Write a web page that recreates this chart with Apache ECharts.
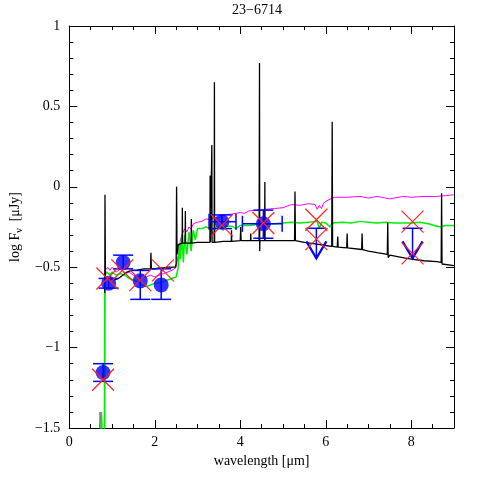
<!DOCTYPE html>
<html>
<head>
<meta charset="utf-8">
<script src="https://cdn.jsdelivr.net/npm/echarts@6.0.0/dist/echarts.min.js"></script>
<style>
  html, body { margin: 0; padding: 0; background: #fff; }
  #chart { width: 480px; height: 480px; }
</style>
</head>
<body>
<div id="chart"></div>
<script>
// model spectra : [wavelength (um), log F_nu]
var blackModel = [
  [0.83, -0.66], [0.835, -0.05], [0.845, -0.57], [0.95, -0.57], [1.05, -0.58], [1.15, -0.57],
  [1.25, -0.55], [1.35, -0.53], [1.45, -0.52], [1.55, -0.52], [1.65, -0.515], [1.75, -0.51],
  [1.9, -0.51], [1.91, -0.41], [1.92, -0.51], [2.0, -0.51], [2.1, -0.505], [2.2, -0.505],
  [2.3, -0.5], [2.48, -0.5], [2.5, -0.48], [2.51, 0.0], [2.52, -0.42], [2.55, -0.36],
  [2.64, -0.35], [2.645, -0.13], [2.65, -0.35], [2.71, -0.35], [2.715, -0.15], [2.72, -0.35],
  [2.85, -0.35], [2.855, -0.2], [2.86, -0.35], [3.0, -0.345], [3.2, -0.345], [3.29, -0.345],
  [3.295, 0.07], [3.3, -0.345], [3.33, -0.345], [3.335, 0.26], [3.34, -0.345], [3.39, -0.345],
  [3.395, 0.65], [3.4, -0.345], [3.6, -0.34], [3.79, -0.34], [3.795, -0.27], [3.8, -0.34],
  [4.0, -0.335], [4.01, -0.25], [4.02, -0.335], [4.24, -0.335], [4.245, -0.29], [4.25, -0.335],
  [4.44, -0.335], [4.45, 0.77], [4.455, -0.4], [4.46, -0.335], [4.57, -0.335], [4.575, 0.03],
  [4.58, -0.335], [5.0, -0.335], [5.27, -0.335], [5.28, -0.03], [5.29, -0.335], [5.5, -0.345],
  [5.75, -0.355], [6.0, -0.365], [6.14, -0.37], [6.15, 0.405], [6.16, -0.37], [6.27, -0.375],
  [6.28, -0.31], [6.29, -0.375], [6.49, -0.38], [6.5, -0.29], [6.51, -0.38], [6.84, -0.39],
  [6.85, -0.29], [6.86, -0.39], [7.0, -0.4], [7.2, -0.41], [7.44, -0.42], [7.45, -0.22],
  [7.46, -0.44], [7.5, -0.425], [7.8, -0.44], [8.0, -0.45], [8.3, -0.46], [8.6, -0.465],
  [8.7, -0.47], [8.71, -0.04], [8.72, -0.48], [9.0, -0.49]
];
var magentaModel = [
  [0.7, -1.6], [0.72, -1.4], [0.73, -1.46], [0.75, -1.6], [0.83, -1.6], [0.835, -0.52],
  [0.9, -0.5], [0.95, -0.52], [1.0, -0.5], [1.1, -0.53], [1.2, -0.51], [1.3, -0.54],
  [1.4, -0.53], [1.5, -0.55], [1.6, -0.56], [1.7, -0.55], [1.8, -0.56], [1.9, -0.55],
  [2.0, -0.56], [2.1, -0.55], [2.2, -0.54], [2.3, -0.53], [2.4, -0.52], [2.5, -0.5],
  [2.55, -0.42], [2.6, -0.33], [2.65, -0.29], [2.7, -0.26], [2.75, -0.28], [2.8, -0.25],
  [2.85, -0.26], [2.9, -0.23], [3.0, -0.22], [3.1, -0.215], [3.2, -0.2], [3.3, -0.205],
  [3.4, -0.19], [3.5, -0.195], [3.6, -0.175], [3.8, -0.17], [4.0, -0.16], [4.1, -0.165],
  [4.2, -0.15], [4.4, -0.145], [4.6, -0.14], [4.8, -0.135], [5.0, -0.13], [5.2, -0.11],
  [5.4, -0.115], [5.6, -0.105], [5.75, -0.11], [5.8, -0.14], [5.85, -0.115], [5.9, -0.135],
  [5.95, -0.1], [6.0, -0.09], [6.2, -0.065], [6.5, -0.065], [6.8, -0.06], [7.0, -0.07],
  [7.2, -0.06], [7.5, -0.075], [7.8, -0.06], [8.0, -0.065], [8.3, -0.06], [8.6, -0.06],
  [8.8, -0.055], [9.0, -0.05]
];
var greenModel = [
  [0.73, -1.6], [0.75, -1.4], [0.76, -1.44], [0.77, -1.6], [0.82, -1.6], [0.83, -0.55],
  [0.88, -0.53], [0.95, -0.55], [1.0, -0.53], [1.1, -0.55], [1.2, -0.54], [1.3, -0.55],
  [1.4, -0.57], [1.5, -0.58], [1.6, -0.59], [1.7, -0.61], [1.8, -0.62], [1.9, -0.61],
  [2.0, -0.6], [2.1, -0.6], [2.2, -0.59], [2.3, -0.58], [2.4, -0.57], [2.5, -0.56],
  [2.55, -0.5], [2.58, -0.35], [2.6, -0.45], [2.63, -0.3], [2.67, -0.47], [2.7, -0.3],
  [2.75, -0.42], [2.8, -0.28], [2.85, -0.4], [2.9, -0.27], [2.95, -0.33], [3.0, -0.26],
  [3.1, -0.26], [3.2, -0.25], [3.3, -0.26], [3.38, -0.3], [3.42, -0.25], [3.5, -0.25],
  [3.6, -0.27], [3.65, -0.245], [3.8, -0.245], [3.9, -0.26], [4.0, -0.24], [4.2, -0.24],
  [4.4, -0.235], [4.6, -0.235], [4.8, -0.23], [5.0, -0.225], [5.2, -0.22], [5.4, -0.225],
  [5.6, -0.22], [5.8, -0.215], [5.85, -0.26], [5.9, -0.22], [6.0, -0.225], [6.1, -0.25],
  [6.15, -0.225], [6.4, -0.22], [6.6, -0.225], [6.8, -0.215], [7.0, -0.22], [7.2, -0.225],
  [7.4, -0.22], [7.6, -0.225], [7.8, -0.225], [8.0, -0.225], [8.2, -0.22], [8.4, -0.23],
  [8.6, -0.245], [8.7, -0.25], [8.8, -0.24], [9.0, -0.24]
];

// observed photometry (detections)
var detX   = [0.79, 0.92, 1.26, 1.66, 2.15, 3.57, 4.54];
var detY   = [-1.155, -0.6, -0.47, -0.585, -0.61, -0.217, -0.23];
var detYLo = [-1.21, -0.63, -0.51, -0.7, -0.7, -0.26, -0.32];
var detYHi = [-1.1, -0.57, -0.425, -0.52, -0.51, -0.175, -0.145];
var detXLo = [0.79, 0.92, 1.26, 1.66, 2.15, 3.27, 4.05];
var detXHi = [0.79, 0.92, 1.26, 1.66, 2.15, 3.9, 4.98];

// upper limits
var limX   = [5.78, 8.03];
var limY   = [-0.258, -0.258];
var limTip = [-0.445, -0.445];

// model photometry (red crosses)
var fitX = [0.79, 0.89, 1.24, 1.66, 2.19, 3.57, 4.54, 5.78, 5.78, 8.03, 8.03];
var fitY = [-1.2, -0.57, -0.52, -0.58, -0.52, -0.24, -0.225, -0.205, -0.325, -0.217, -0.414];

var xMajor = [0, 2, 4, 6, 8];

var FONT = "Liberation Serif";

var myChart = echarts.init(document.getElementById("chart"));

function errItem(params, api) {
  var x = api.value(0), y = api.value(1);
  var c = api.coord([x, y]);
  var lo = api.coord([x, api.value(2)]);
  var hi = api.coord([x, api.value(3)]);
  var xl = api.coord([api.value(4), y]);
  var xh = api.coord([api.value(5), y]);
  var st = { stroke: "#0000ff", lineWidth: 1.5 };
  var kids = [
    { type: "line", shape: { x1: c[0], y1: lo[1], x2: c[0], y2: hi[1] }, style: st },
    { type: "line", shape: { x1: c[0] - 10, y1: lo[1], x2: c[0] + 10, y2: lo[1] }, style: st },
    { type: "line", shape: { x1: c[0] - 10, y1: hi[1], x2: c[0] + 10, y2: hi[1] }, style: st }
  ];
  if (xh[0] - xl[0] > 1) {
    kids.push({ type: "line", shape: { x1: xl[0], y1: c[1], x2: xh[0], y2: c[1] }, style: st });
    kids.push({ type: "line", shape: { x1: xl[0], y1: c[1] - 8, x2: xl[0], y2: c[1] + 8 }, style: st });
    kids.push({ type: "line", shape: { x1: xh[0], y1: c[1] - 8, x2: xh[0], y2: c[1] + 8 }, style: st });
  }
  return { type: "group", children: kids };
}

function limItem(params, api) {
  var p = api.coord([api.value(0), api.value(1)]);
  var t = api.coord([api.value(0), api.value(2)]);
  var st = { stroke: "#0000ff", lineWidth: 1.5, fill: "none" };
  var hd = { stroke: "#0000ff", lineWidth: 2.2, fill: "none" };
  return {
    type: "group",
    children: [
      { type: "line", shape: { x1: p[0] - 10, y1: p[1], x2: p[0] + 10, y2: p[1] }, style: st },
      { type: "line", shape: { x1: p[0], y1: p[1], x2: t[0], y2: t[1] }, style: st },
      { type: "polyline", shape: { points: [[t[0] - 10, t[1] - 17], [t[0], t[1]], [t[0] + 10, t[1] - 17]] }, style: hd }
    ]
  };
}

function crossItem(params, api) {
  var p = api.coord([api.value(0), api.value(1)]);
  var h = 11;
  var st = { stroke: "#ff2222", lineWidth: 1.2 };
  return {
    type: "group",
    children: [
      { type: "line", shape: { x1: p[0] - h, y1: p[1] - h, x2: p[0] + h, y2: p[1] + h }, style: st },
      { type: "line", shape: { x1: p[0] - h, y1: p[1] + h, x2: p[0] + h, y2: p[1] - h }, style: st }
    ]
  };
}

var axisTxt = { fontFamily: FONT, fontSize: 14, color: "#000" };

function xAx(pos, interval, len, labels) {
  return {
    type: "value", position: pos, min: 0, max: 9, interval: interval,
    axisLine: { show: interval === 2, onZero: false, lineStyle: { color: "#000", width: 1 } },
    axisTick: { show: true, inside: true, length: len, lineStyle: { color: "#000" } },
    axisLabel: {
      show: labels, margin: 7, showMaxLabel: false, textStyle: axisTxt,
      formatter: function (v) { return xMajor.indexOf(v) >= 0 ? String(v) : ""; }
    },
    splitLine: { show: false },
    name: labels ? "wavelength [\u03bcm]" : "", nameLocation: "middle", nameGap: 24,
    nameTextStyle: axisTxt
  };
}

function yAx(pos, labels) {
  return {
    type: "value", position: pos, min: -1.5, max: 1, interval: 0.5,
    axisLine: { show: true, onZero: false, lineStyle: { color: "#000", width: 1 } },
    axisTick: { show: true, inside: true, length: 8, lineStyle: { color: "#000" } },
    minorTick: { show: true, splitNumber: 5, length: 4, lineStyle: { color: "#000" } },
    axisLabel: {
      show: labels, margin: 9, textStyle: axisTxt,
      formatter: function (v) { return String(v).replace("-", "\u2212"); }
    },
    splitLine: { show: false },
    name: labels ? "log F{sub|\u03bd}  [\u03bcJy]" : "", nameLocation: "middle", nameGap: 32,
    nameTextStyle: {
      fontFamily: FONT, fontSize: 14, color: "#000",
      rich: { sub: { fontFamily: FONT, fontSize: 10, color: "#000", padding: [8, 0, 0, 0] } }
    }
  };
}

myChart.setOption({
  animation: false,
  backgroundColor: "#fff",
  graphic: [
    { type: "text", left: 232, top: 3, style: { text: "23\u22126714", font: "14px " + FONT, fill: "#000" } }
  ],
  grid: { left: 52, right: 26, top: 26, bottom: 52 },
  xAxis: [xAx("bottom", 2, 8, true), xAx("bottom", 0.5, 4, false), xAx("top", 2, 8, false), xAx("top", 0.5, 4, false)],
  yAxis: [yAx("left", true), yAx("right", false)],
  series: [
    {
      type: "line", data: magentaModel, showSymbol: false, clip: true,
      lineStyle: { color: "#ff00ff", width: 1 }, z: 2
    },
    {
      type: "line", data: greenModel, showSymbol: false, clip: true,
      lineStyle: { color: "#00ee00", width: 1.5 }, z: 3
    },
    {
      type: "line", data: blackModel, showSymbol: false, clip: true,
      lineStyle: { color: "#000", width: 1.3 }, z: 4
    },
    {
      type: "custom", renderItem: errItem, z: 5,
      data: detX.map(function (x, i) { return [x, detY[i], detYLo[i], detYHi[i], detXLo[i], detXHi[i]]; })
    },
    {
      type: "scatter", symbol: "circle", symbolSize: 15, z: 6,
      itemStyle: { color: "#0000ff" },
      data: detX.map(function (x, i) { return [x, detY[i]]; })
    },
    {
      type: "custom", renderItem: limItem, z: 6,
      data: limX.map(function (x, i) { return [x, limY[i], limTip[i]]; })
    },
    {
      type: "custom", renderItem: crossItem, z: 7,
      data: fitX.map(function (x, i) { return [x, fitY[i]]; })
    }
  ]
});
</script>
</body>
</html>
